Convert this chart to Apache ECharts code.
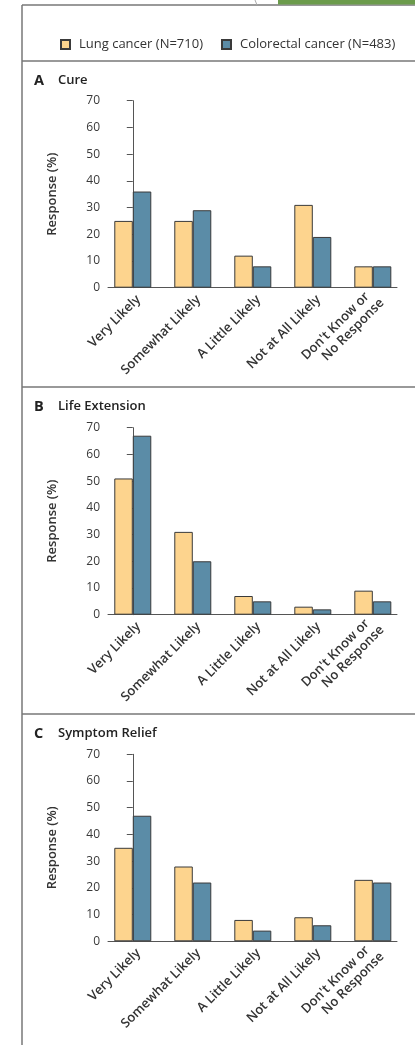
<!DOCTYPE html>
<html>
<head>
<meta charset="utf-8">
<script src="https://cdn.jsdelivr.net/npm/echarts@6/dist/echarts.min.js"></script>
<style>
html,body{margin:0;padding:0;background:#fff;}
#c{width:415px;height:1045px;}
</style>
</head>
<body>
<div id="c"></div>
<script>
// ---- data ----
const categories = ["Very Likely", "Somewhat Likely", "A Little Likely", "Not at All Likely", "Don't Know or\nNo Response"];
const seriesNames = ["Lung cancer (N=710)", "Colorectal cancer (N=483)"];
const panelLetters = ["A", "B", "C"];
const panelTitles = ["Cure", "Life Extension", "Symptom Relief"];
const lungCure = [25, 25, 12, 31, 8];
const colorectalCure = [36, 29, 8, 19, 8];
const lungLife = [51, 31, 7, 3, 9];
const colorectalLife = [67, 20, 5, 2, 5];
const lungSymptom = [35, 28, 8, 9, 23];
const colorectalSymptom = [47, 22, 4, 6, 22];
const yTicks = { min: 0, max: 70, interval: 10 };

const lungData = [lungCure, lungLife, lungSymptom];
const colorectalData = [colorectalCure, colorectalLife, colorectalSymptom];

// ---- layout / style ----
const FONT = "Open Sans";
const LUNG = "#FDD48E";
const COLO = "#5B8CA7";
const EDGE = "#3a3a3a";
const gridTops = [100.7, 427.7, 754.3];
const titleTops = [68, 394, 721];
const dividers = [61, 387, 714];

function catLabel(v) {
  const name = categories[Math.round(v)];
  if (name === undefined) return "";
  const lines = name.split("\n");
  if (lines.length === 1) return "{s|" + name + "}";
  return "{e| }\n{a|" + lines[0] + "}\n{b|" + lines[1] + "}";
}

const labelText = { fontFamily: FONT, fontWeight: 600, fontSize: 13, color: "#333", lineHeight: 15 };

const grids = [], xAxes = [], yAxes = [], series = [], titles = [];
gridTops.forEach((top, p) => {
  grids.push({ left: 108, top: top, width: 289, height: 187 });
  xAxes.push({
    gridIndex: p, type: "value", min: -0.413, max: 4.403,
    axisLine: { show: true, lineStyle: { color: "#555", width: 1 } },
    axisTick: { show: false },
    splitLine: { show: false },
    axisLabel: Object.assign({
      customValues: categories.map((c, i) => i),
      formatter: catLabel,
      rotate: 45, margin: 4,
      rich: {
        s: Object.assign({ padding: [16, 0, 0, 0] }, labelText),
        e: { fontSize: 6, lineHeight: 11 },
        a: Object.assign({ padding: [0, 6, 0, 0] }, labelText),
        b: Object.assign({}, labelText)
      }
    }, labelText)
  });
  yAxes.push({
    gridIndex: p, type: "value", min: yTicks.min, max: yTicks.max, interval: yTicks.interval,
    name: "Response (%)", nameLocation: "middle", nameGap: 49,
    nameTextStyle: { fontFamily: FONT, fontWeight: 600, fontSize: 13, color: "#333" },
    axisLine: { show: true, lineStyle: { color: "#555", width: 1 } },
    axisTick: { show: true, length: 6, lineStyle: { color: "#555" } },
    splitLine: { show: false },
    axisLabel: { margin: 8, fontFamily: FONT, fontSize: 12, color: "#3a3a3a" }
  });
  [lungData[p], colorectalData[p]].forEach((vals, s) => {
    series.push({
      type: "bar", name: seriesNames[s], xAxisIndex: p, yAxisIndex: p,
      barWidth: 18.5, barGap: "0%",
      itemStyle: { color: s === 0 ? LUNG : COLO, borderColor: EDGE, borderWidth: 1 },
      data: vals.map((v, i) => [i, v]),
      silent: true
    });
  });
  titles.push({
    left: 29, top: titleTops[p],
    text: "{l|" + panelLetters[p] + "}{t|" + panelTitles[p] + "}",
    textStyle: {
      rich: {
        l: { fontFamily: FONT, fontWeight: 700, fontSize: 14.5, color: "#222", width: 24 },
        t: { fontFamily: FONT, fontWeight: 600, fontSize: 13, color: "#222" }
      }
    }
  });
});

const graphics = [
  { type: "line", shape: { x1: 22, y1: 5, x2: 22, y2: 1045 }, style: { stroke: "#777", lineWidth: 1.5 } },
  { type: "line", shape: { x1: 22, y1: 5, x2: 415, y2: 5 }, style: { stroke: "#777", lineWidth: 1.5 } },
  { type: "rect", shape: { x: 278, y: 0, width: 137, height: 4.5 }, style: { fill: "#6b9b4b" } },
  { type: "line", shape: { x1: 255, y1: 0, x2: 257, y2: 5 }, style: { stroke: "#aaa", lineWidth: 1 } }
];
dividers.forEach(y => graphics.push({ type: "line", shape: { x1: 22, y1: y, x2: 415, y2: y }, style: { stroke: "#777", lineWidth: 1.5 } }));

const chart = echarts.init(document.getElementById("c"), null, { renderer: "canvas" });
chart.setOption({
  animation: false,
  backgroundColor: "#fff",
  title: titles,
  legend: {
    top: 33, left: 55, data: seriesNames, icon: "rect",
    itemWidth: 9, itemHeight: 9, itemGap: 18,
    textStyle: { fontFamily: FONT, fontSize: 13, color: "#333", padding: [0, 0, 0, 4] },
    selectedMode: false
  },
  grid: grids, xAxis: xAxes, yAxis: yAxes, series: series,
  graphic: graphics
});
</script>
</body>
</html>
